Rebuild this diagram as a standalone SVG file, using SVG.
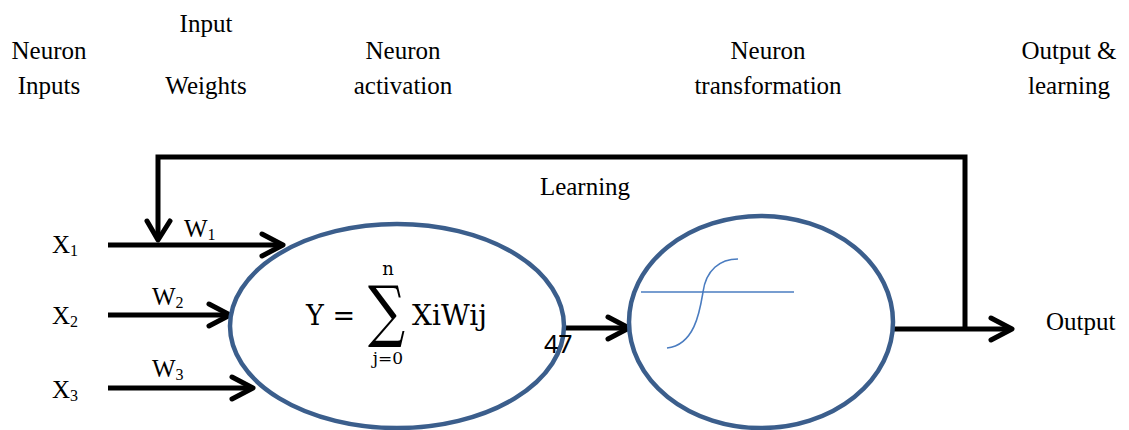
<svg xmlns="http://www.w3.org/2000/svg" width="1129" height="430" viewBox="0 0 1129 430">
<style>
.t{font-family:"Liberation Serif","Times New Roman",serif;font-size:25px;fill:#000}
.m{font-family:"DejaVu Serif",serif;fill:#000}
.sub{font-size:16px}
.ln{stroke:#000;stroke-width:5;fill:none}
.ah{stroke:#000;stroke-width:5;fill:none;stroke-linecap:round;stroke-linejoin:round}
.node{fill:#fff;stroke:#3B5E8C;stroke-width:4.5}
.sig{stroke:#4A7CC0;stroke-width:1.6;fill:none}
</style>
<rect width="1129" height="430" fill="#fff"/>
<g id="headers">
<text class="t" x="49" y="59" text-anchor="middle">Neuron</text>
<text class="t" x="49" y="94" text-anchor="middle">Inputs</text>
<text class="t" x="206" y="32" text-anchor="middle">Input</text>
<text class="t" x="206" y="94" text-anchor="middle">Weights</text>
<text class="t" x="403" y="59" text-anchor="middle">Neuron</text>
<text class="t" x="403" y="94" text-anchor="middle">activation</text>
<text class="t" x="768" y="59" text-anchor="middle">Neuron</text>
<text class="t" x="768" y="94" text-anchor="middle">transformation</text>
<text class="t" x="1069" y="59" text-anchor="middle">Output &amp;</text>
<text class="t" x="1069" y="94" text-anchor="middle">learning</text>
</g>
<g id="connectors">
<polyline class="ln" points="965,331 965,157 158,157 158,240"/>
<polyline class="ah" points="147,221 158,240 170,221"/>
<line class="ln" x1="108" y1="245" x2="281" y2="245"/>
<polyline class="ah" points="262,234 283,245 262,256"/>
<line class="ln" x1="108" y1="315" x2="228" y2="315"/>
<polyline class="ah" points="209,304 230,315 209,326"/>
<line class="ln" x1="108" y1="388" x2="251" y2="388"/>
<polyline class="ah" points="232,377 253,388 232,399"/>
<line class="ln" x1="565" y1="328" x2="627" y2="328"/>
<polyline class="ah" points="608,317 629,328 608,339"/>
<line class="ln" x1="893" y1="329" x2="1010" y2="329"/>
<polyline class="ah" points="991,318 1012,329 991,340"/>
</g>
<g id="inputs">
<text class="t" x="52" y="253">X<tspan class="sub" dy="3">1</tspan></text>
<text class="t" x="52" y="324">X<tspan class="sub" dy="3">2</tspan></text>
<text class="t" x="52" y="398">X<tspan class="sub" dy="3">3</tspan></text>
<text class="t" x="184" y="237">W<tspan class="sub" dy="3">1</tspan></text>
<text class="t" x="152" y="305">W<tspan class="sub" dy="3">2</tspan></text>
<text class="t" x="152" y="377">W<tspan class="sub" dy="3">3</tspan></text>
<text class="t" x="585" y="195" text-anchor="middle">Learning</text>
<text class="t" x="1046" y="330">Output</text>
</g>
<g id="activation">
<ellipse class="node" cx="397" cy="326" rx="167" ry="102"/>
<text class="m" x="306" y="325" font-size="27">Y =</text>
<text class="m" font-size="52" transform="translate(368,334) scale(1,1.3)">∑</text>
<text class="m" x="388" y="275" font-size="18" text-anchor="middle">n</text>
<text class="m" x="388" y="364" font-size="17" text-anchor="middle">j=0</text>
<text class="m" x="412" y="325" font-size="28">XiWij</text>
<text x="544" y="353" font-family="Noto Sans, sans-serif" font-size="25" fill="#000">47</text>
</g>
<g id="transformation">
<ellipse class="node" cx="761" cy="322" rx="132" ry="106"/>
<line class="sig" x1="641" y1="292" x2="794" y2="292"/>
<path class="sig" d="M667,348 C695,345 700,310 703,292 C706,270 720,259 738,259"/>
</g>
</svg>
